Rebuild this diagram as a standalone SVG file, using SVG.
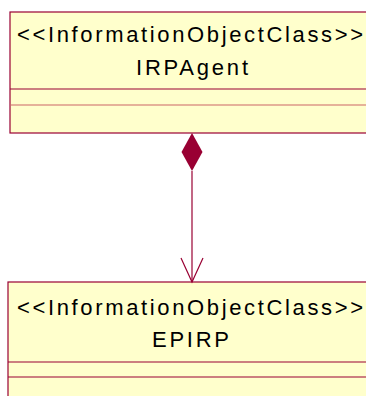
<svg xmlns="http://www.w3.org/2000/svg" width="366" height="396" viewBox="0 0 366 396">
<style>
.box{fill:#FFFFCC;stroke:#990033;stroke-width:1.2}
.div{stroke:#990033;stroke-width:1.2}
.t{font-family:"Liberation Sans",Arial,sans-serif;font-size:22px;fill:#000}
</style>
<rect width="366" height="396" fill="#fff"/>
<g id="IRPAgent">
<rect class="box" x="10" y="12" width="400" height="121"/>
<line class="div" x1="10" y1="89" x2="366" y2="89"/>
<line class="div" x1="10" y1="105" x2="366" y2="105" style="stroke:#CC6666"/>
<text class="t" x="17" y="42" textLength="346" lengthAdjust="spacing">&lt;&lt;InformationObjectClass&gt;&gt;</text>
<text class="t" x="136" y="75" textLength="112" lengthAdjust="spacing">IRPAgent</text>
</g>
<g id="EPIRP">
<rect class="box" x="8" y="282" width="400" height="130"/>
<line class="div" x1="8" y1="362" x2="366" y2="362"/>
<line class="div" x1="8" y1="377" x2="366" y2="377"/>
<text class="t" x="17" y="315" textLength="346" lengthAdjust="spacing">&lt;&lt;InformationObjectClass&gt;&gt;</text>
<text class="t" x="152" y="347" textLength="77" lengthAdjust="spacing">EPIRP</text>
</g>
<g id="connectors">
<line x1="192" y1="171" x2="192" y2="282" stroke="#990033" stroke-width="1.2"/>
<polygon points="192,133 202.5,152 192,171 181.5,152" fill="#990033"/>
<polyline points="181,258 192,282 203,258" fill="none" stroke="#990033" stroke-width="1.2"/>
</g>
</svg>
